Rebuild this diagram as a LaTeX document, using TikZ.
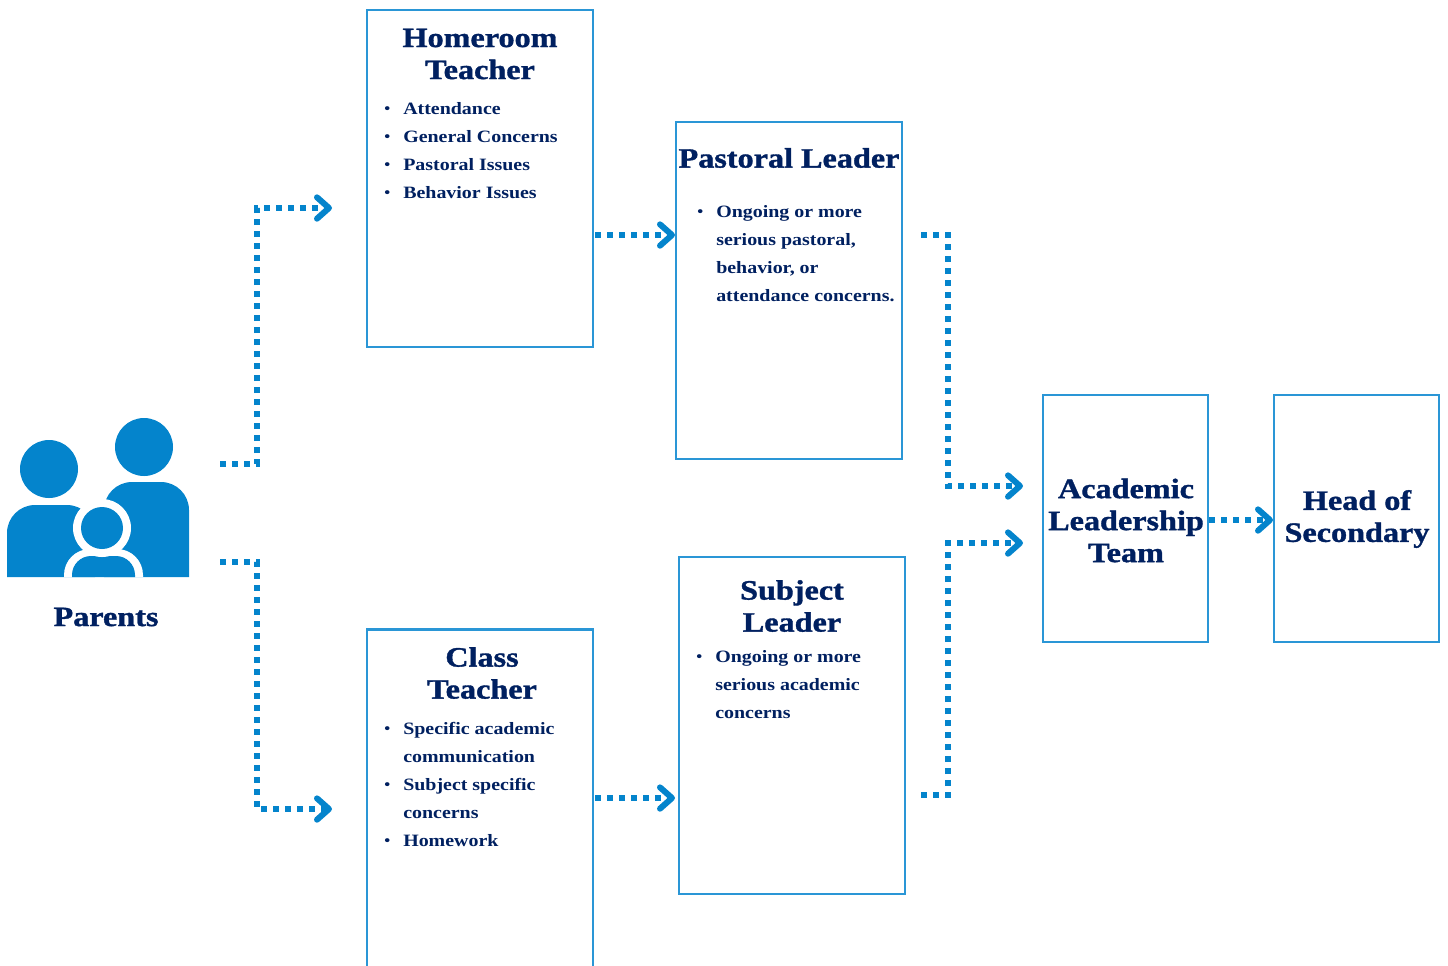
\documentclass[tikz,border=0pt]{standalone}
\usepackage{fontspec}
\usetikzlibrary{arrows.meta}
\setmainfont{Liberation Serif}[BoldFont={Liberation Serif Bold},BoldFeatures={FakeStretch=1.15}]
\newfontfamily\titlefont{Liberation Serif Bold}[FakeStretch=1.15,FakeBold=1.2]
\definecolor{navytext}{HTML}{002060}
\definecolor{parentblue}{HTML}{0484CC}
\definecolor{boxblue}{HTML}{2A96D6}
\newcommand{\bul}{\makebox[14.25pt][l]{\raisebox{0.5pt}{\fontsize{11}{11}\selectfont\textbullet}}}
\newcommand{\ind}{\hspace*{14.25pt}}
\tikzset{
    box/.style={draw=boxblue,line width=1.9pt,fill=white,inner sep=0pt},
    thinbox/.style={box,line width=1.7pt},
    title/.style={text=navytext,font=\fontsize{21}{24}\selectfont\titlefont,align=center,inner sep=0pt},
    bullets/.style={text=navytext,font=\fontsize{13}{21}\selectfont\bfseries,align=left,inner sep=0pt,anchor=north west},
    link/.style={draw=parentblue,line width=4.5pt,dash pattern=on 4.5pt off 4.5pt,-{Straight Barb[length=9pt,width=16pt,round]}},
    icon/.style={fill=parentblue,draw=none},
    iconwhite/.style={fill=white,draw=none}
}
\begin{document}
\begin{tikzpicture}[x=0.75pt,y=-0.75pt]
    \useasboundingbox (0,0) rectangle (1448,965);
    \clip (0,0) rectangle (1448,965);

    \fill[icon] (144,447) circle (29);
    \fill[icon] (49,469) circle (29);
    \fill[icon] (104,577) -- (104,510) arc[start angle=180,end angle=270,radius=28] -- (161,482) arc[start angle=-90,end angle=0,radius=28] -- (189,577) -- cycle;
    \fill[icon] (7,577) -- (7,533) arc[start angle=180,end angle=270,radius=28] -- (67,505) arc[start angle=-90,end angle=0,radius=28] -- (95,577) -- cycle;
    \fill[iconwhite] (64,577) -- (64,575) arc[start angle=180,end angle=270,radius=26] -- (117,549) arc[start angle=-90,end angle=0,radius=26] -- (143,577) -- cycle;
    \fill[icon] (72,577) -- (72,575) arc[start angle=180,end angle=270,radius=19] -- (116,556) arc[start angle=-90,end angle=0,radius=19] -- (135,577) -- cycle;
    \fill[iconwhite] (102,528) circle (29);
    \fill[icon] (102,528) circle (21);
    \node[title] (parents) at (106,617) {Parents};

    \node[box,minimum width=169.5pt,minimum height=252.75pt] (homeroom) at (480,178.5) {};
    \node[box,minimum width=169.5pt,minimum height=252.75pt] (pastoral) at (789,290.5) {};
    \node[box,minimum width=169.5pt,minimum height=256pt] (class) at (480,800) {};
    \node[box,minimum width=169.5pt,minimum height=252.75pt] (subject) at (792,725.5) {};
    \node[thinbox,minimum width=123.75pt,minimum height=185.25pt] (academic) at (1125.5,518.5) {};
    \node[thinbox,minimum width=123.75pt,minimum height=185.25pt] (head) at (1356.5,518.5) {};

    \node[title] (homeroomtitle) at (480,54) {Homeroom\\Teacher};
    \node[title] (pastoraltitle) at (789,158) {Pastoral Leader};
    \node[title] (classtitle) at (482,673) {Class\\Teacher};
    \node[title] (subjecttitle) at (792,606) {Subject\\Leader};
    \node[title] (academictitle) at (1126,520.5) {Academic\\Leadership\\Team};
    \node[title] (headtitle) at (1357,519) {Head of\\Secondary};

    \node[bullets] (homeroomlist) at (384,102) {\bul Attendance\\\bul General Concerns\\\bul Pastoral Issues\\\bul Behavior Issues};
    \node[bullets] (pastorallist) at (697,205) {\bul Ongoing or more\\\ind serious pastoral,\\\ind behavior, or\\\ind attendance concerns.};
    \node[bullets] (classlist) at (384,722) {\bul Specific academic\\\ind communication\\\bul Subject specific\\\ind concerns\\\bul Homework};
    \node[bullets] (subjectlist) at (696,650) {\bul Ongoing or more\\\ind serious academic\\\ind concerns};

    \coordinate (parentsup) at (220,464);
    \coordinate (parentsdown) at (220,562);
    \coordinate (homeroomin) at (332,208);
    \coordinate (classin) at (332,809);
    \coordinate (homeroomout) at (595,235);
    \coordinate (pastoralin) at (675,235);
    \coordinate (classout) at (595,798);
    \coordinate (subjectin) at (675,798);
    \coordinate (pastoralout) at (921,235);
    \coordinate (subjectout) at (921,795);
    \coordinate (academicup) at (1023,486);
    \coordinate (academicdown) at (1023,543);
    \coordinate (academicout) at (1209,520);
    \coordinate (headin) at (1273,520);

    \draw[link] (parentsup) -- (257,464) -- (257,208) -- (homeroomin);
    \draw[link] (parentsdown) -- (257,562) -- (257,809) -- (classin);
    \draw[link] (homeroomout) -- (pastoralin);
    \draw[link] (classout) -- (subjectin);
    \draw[link] (pastoralout) -- (948,235) -- (948,486) -- (academicup);
    \draw[link] (subjectout) -- (948,795) -- (948,543) -- (academicdown);
    \draw[link] (academicout) -- (headin);
\end{tikzpicture}
\end{document}
